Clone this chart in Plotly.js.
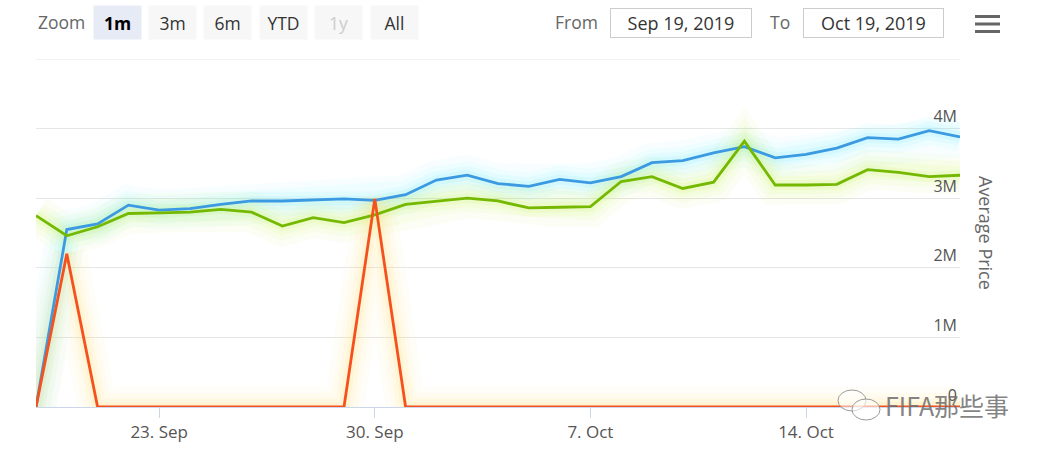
<!DOCTYPE html>
<html>
<head>
<meta charset="utf-8">
<script src="https://cdn.plot.ly/plotly-3.0.1.min.js"></script>
<style>html,body{margin:0;padding:0;background:#fff;}#chart{width:1045px;height:452px;}</style>
</head>
<body>
<div id="chart"></div>
<script>
const dates = ["2019-09-19","2019-09-20","2019-09-21","2019-09-22","2019-09-23","2019-09-24","2019-09-25","2019-09-26","2019-09-27","2019-09-28","2019-09-29","2019-09-30","2019-10-01","2019-10-02","2019-10-03","2019-10-04","2019-10-05","2019-10-06","2019-10-07","2019-10-08","2019-10-09","2019-10-10","2019-10-11","2019-10-12","2019-10-13","2019-10-14","2019-10-15","2019-10-16","2019-10-17","2019-10-18","2019-10-19"];
const bluePrice = [0,2.55,2.63,2.90,2.83,2.85,2.91,2.96,2.96,2.97,2.99,2.97,3.05,3.26,3.33,3.21,3.17,3.27,3.22,3.31,3.51,3.54,3.65,3.74,3.58,3.63,3.72,3.87,3.85,3.97,3.88].map(v=>v*1e6);
const greenPrice = [2.75,2.46,2.59,2.78,2.79,2.80,2.84,2.80,2.60,2.72,2.65,2.76,2.91,2.95,3.00,2.96,2.86,2.87,2.88,3.24,3.31,3.14,3.23,3.82,3.19,3.19,3.20,3.41,3.37,3.31,3.33].map(v=>v*1e6);
const orangePrice = [0,2.20,0,0,0,0,0,0,0,0,0,2.99,0,0,0,0,0,0,0,0,0,0,0,0,0,0,0,0,0,0,0].map(v=>v*1e6);
const xTickVals = ["2019-09-23","2019-09-30","2019-10-07","2019-10-14"];
const xTickText = ["23. Sep","30. Sep","7. Oct","14. Oct"];
const yTickVals = [0,1e6,2e6,3e6,4e6];
const yTickText = ["0","1M","2M","3M","4M"];
const yMax = 5e6;
const zoomButtons = ["1m","3m","6m","YTD","1y","All"];
const fromDate = "Sep 19, 2019";
const toDate = "Oct 19, 2019";

const series = [
  {y: bluePrice, color: "#3b9ae1", glow: "rgba(110,235,255,"},
  {y: greenPrice, color: "#74b900", glow: "rgba(200,245,80,"},
  {y: orangePrice, color: "#f4511e", glow: "rgba(255,225,110,"}
];
const traces = [];
series.forEach(s => {
  [[40,0.05],[28,0.07],[18,0.09],[10,0.12]].forEach(([w,a]) => {
    traces.push({x: dates, y: s.y, mode: "lines", hoverinfo: "skip", showlegend: false,
      line: {color: s.glow + a + ")", width: w}});
  });
});
series.forEach(s => {
  traces.push({x: dates, y: s.y, mode: "lines", showlegend: false, line: {color: s.color, width: 2.8}});
});

const L = 36, W = 924, B = 407, H = 348;
const px = v => (v - L) / W;
const py = v => (B - v) / H;
const font = "Open Sans, DejaVu Sans, sans-serif";

const annotations = [];
const shapes = [];
function ann(o) {
  annotations.push(Object.assign({xref: "paper", yref: "paper", showarrow: false, xanchor: "center", yanchor: "middle"}, o));
}
ann({text: "Zoom", x: px(61.5), y: py(22), font: {family: font, size: 17.5, color: "#666"}});
const btnCenters = [117.5, 172.5, 227.5, 283, 338.5, 394];
zoomButtons.forEach((b, i) => {
  const active = i === 0, disabled = b === "1y";
  ann({text: active ? "<b>" + b + "</b>" : b, x: px(btnCenters[i]), y: py(22.5),
    width: 45, height: 31, bgcolor: active ? "#e6ebf5" : "#f7f7f7",
    font: {family: font, size: 17.5, color: disabled ? "#cccccc" : (active ? "#000" : "#333")}});
});
ann({text: "From", x: px(576.5), y: py(22), font: {family: font, size: 17.5, color: "#666"}});
ann({text: fromDate, x: px(681), y: py(23), width: 138, height: 26, bordercolor: "#cccccc", borderwidth: 1, bgcolor: "#fff",
  font: {family: font, size: 18, color: "#333"}});
ann({text: "To", x: px(779.5), y: py(22), font: {family: font, size: 17.5, color: "#666"}});
ann({text: toDate, x: px(873.5), y: py(23), width: 137, height: 26, bordercolor: "#cccccc", borderwidth: 1, bgcolor: "#fff",
  font: {family: font, size: 18, color: "#333"}});
[15, 22.5, 30].forEach(yy => {
  shapes.push({type: "rect", xref: "paper", yref: "paper", x0: px(975), x1: px(1000), y0: py(yy), y1: py(yy + 3),
    fillcolor: "#666", line: {width: 0}});
});
ann({text: "Average Price", textangle: 90, x: px(986), y: py(233), font: {family: font, size: 18, color: "#666"}});
// top gridline
shapes.push({type: "line", xref: "paper", yref: "y", x0: 0, x1: 1, y0: yMax, y1: yMax, line: {color: "#e6e6e6", width: 1}});
// watermark
shapes.push({type: "circle", xref: "paper", yref: "paper", x0: px(838), x1: px(866), y0: py(390), y1: py(411),
  line: {color: "rgba(130,130,130,0.8)", width: 1}, fillcolor: "rgba(255,255,255,0.5)"});
shapes.push({type: "circle", xref: "paper", yref: "paper", x0: px(852), x1: px(880), y0: py(399), y1: py(420),
  line: {color: "rgba(130,130,130,0.8)", width: 1}, fillcolor: "rgba(255,255,255,0.6)"});
ann({text: "FIFA那些事", x: px(947), y: py(405), font: {family: "Noto Sans CJK SC, sans-serif", size: 25, color: "rgba(110,110,110,0.85)"}});

const layout = {
  width: 1045, height: 452,
  margin: {l: L, r: 1045 - L - W, t: B - H, b: 452 - B, pad: 0},
  paper_bgcolor: "#fff", plot_bgcolor: "#fff",
  font: {family: font, size: 15, color: "#666"},
  showlegend: false,
  xaxis: {type: "date", range: ["2019-09-19", "2019-10-19"], tickvals: xTickVals, ticktext: xTickText,
    showgrid: false, zeroline: false, showline: true, linecolor: "#ccd6eb", linewidth: 1,
    ticks: "outside", ticklen: 10, tickcolor: "#ccd6eb", tickfont: {family: font, size: 17, color: "#555"}},
  yaxis: {range: [0, yMax], side: "right", tickvals: yTickVals, ticktext: yTickText,
    ticklabelposition: "inside", ticklabelshift: -12, ticklabelstandoff: 0,
    showgrid: true, gridcolor: "#e6e6e6", gridwidth: 1, zeroline: false, showline: false,
    tickfont: {family: font, size: 16, color: "#555"}},
  annotations: annotations,
  shapes: shapes
};
Plotly.newPlot("chart", traces, layout, {displayModeBar: false, staticPlot: true});
</script>
</body>
</html>
